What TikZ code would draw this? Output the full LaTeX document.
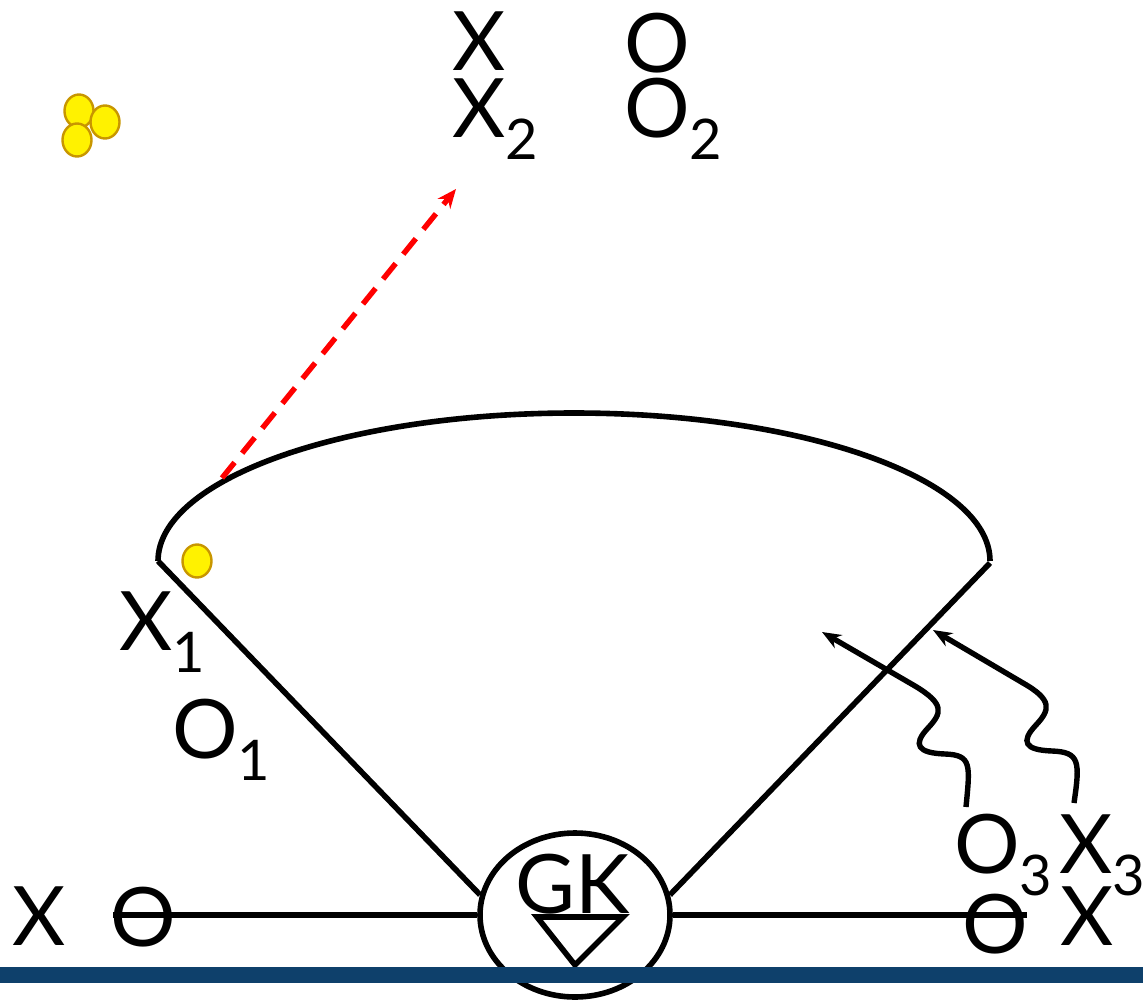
\documentclass[tikz,border=0pt]{standalone}
\usepackage{fontspec}
\setmainfont{Lato}
\usetikzlibrary{arrows.meta,shapes.geometric}
\definecolor{dotgold}{RGB}{200,150,0}
\definecolor{barblue}{RGB}{14,64,107}
\newcommand{\mysub}[1]{\raisebox{-0.27em}{\fontsize{56}{56}\selectfont #1}}
\begin{document}
\begin{tikzpicture}[x=1pt,y=-1pt,
  lbl/.style={inner sep=0pt, anchor=base west, text height=58pt, text depth=0pt, font=\fontsize{82}{82}\selectfont},
  ln/.style={line width=5.6pt, black},
  dot/.style={ellipse, draw=dotgold, fill=yellow, line width=2.4pt, minimum width=29pt, minimum height=33pt, inner sep=0pt},
  wav/.style={line width=5.4pt, black, -{Stealth[length=19pt,width=15pt]}}]
\useasboundingbox (0,0) rectangle (1143,1001);

% top labels
\node[lbl] (xa) at (452,70) {X};
\node[lbl] (oa) at (624,72) {O};
\node[lbl] (x2) at (452,137) {X\mysub{2}};
\node[lbl] (o2) at (624,137) {O\mysub{2}};

% yellow dots
\node[dot] (d1) at (79,111) {};
\node[dot] (d2) at (105,122) {};
\node[dot] (d3) at (77,140) {};
\node[dot] (d4) at (197,561) {};

% arc and cone
\coordinate (arcL) at (158,561);
\coordinate (arcR) at (990,563);
\draw[ln] (arcL) arc[start angle=180, end angle=0, x radius=416pt, y radius=148pt];

% GK node
\node[ellipse, draw, line width=5.6pt, minimum width=190pt, minimum height=164pt, inner sep=0pt] (gk) at (575,915) {};
\node[lbl] (gkt) at (515,913) {GK};
\draw[ln, line join=miter] (537,917) -- (623,917) -- (575,965) -- cycle;

\draw[ln] (arcL) -- (gk.168);
\draw[ln] (arcR) -- (gk.12);

% bottom line
\node[lbl] (xl) at (12,945) {X};
\node[lbl] (ol) at (110,946) {O};
\node[lbl] (or) at (962,953) {O};
\node[lbl] (xr) at (1060,945) {X};
\coordinate (hl) at (113,915);
\coordinate (hr) at (1027,915);
\draw[ln] (hl) -- (gk.west);
\draw[ln] (gk.east) -- (hr);

% side labels
\node[lbl] (x1) at (119,650) {X\mysub{1}};
\node[lbl] (o1) at (172,758) {O\mysub{1}};
\node[lbl] (o3) at (954,873) {O\mysub{3}};
\node[lbl] (x3) at (1059,873) {X\mysub{3}};

% red dashed arrow
\coordinate (rs) at (222,478);
\coordinate (re) at (456,189);
\draw[red, line width=5.4pt, dash pattern=on 20pt off 12pt, -{Stealth[length=19pt,width=16pt]}] (rs) -- (re);

% wavy arrows
\coordinate (w1s) at (966,807);
\coordinate (w1e) at (822,632);
\draw[wav] (w1s) .. controls (970,765) and (972,755) .. (945,754)
  .. controls (918,753) and (912,745) .. (928,728)
  .. controls (942,713) and (945,704) .. (915,686) -- (w1e);
\coordinate (w2s) at (1074,803);
\coordinate (w2e) at (933,630);
\draw[wav] (w2s) .. controls (1080,762) and (1080,752) .. (1052,751)
  .. controls (1025,750) and (1020,742) .. (1036,725)
  .. controls (1050,710) and (1053,700) .. (1023,683) -- (w2e);

% blue bar
\fill[barblue] (0,967) rectangle (1143,983);
\end{tikzpicture}
\end{document}
